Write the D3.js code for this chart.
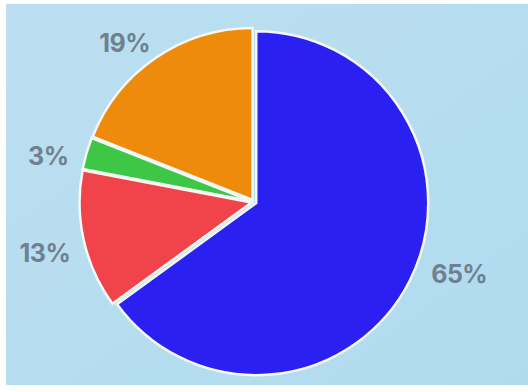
<!DOCTYPE html>
<html>
<head>
<meta charset="utf-8">
<script src="https://cdn.jsdelivr.net/npm/d3@7"></script>
<style>
  html, body { margin: 0; padding: 0; background: #ffffff; }
  svg { display: block; }
</style>
</head>
<body>
<svg id="chart" width="528" height="392"></svg>
<script>
// ---- data ----
const categories = ["A", "B", "C", "D"];
const values = [65, 13, 3, 19];
const labels = ["65%", "13%", "3%", "19%"];
const colors = ["#2b20f2", "#f1434a", "#3ec747", "#ee8b0d"];

// ---- layout ----
const W = 528, H = 392;
const cx = 254, cy = 202, R = 172;
const svg = d3.select("#chart");

svg.append("rect").attr("x", 0).attr("y", 0).attr("width", W).attr("height", H).attr("fill", "#ffffff");
const defs = svg.append("defs");
const grad = defs.append("linearGradient").attr("id", "bg").attr("x1", "0").attr("y1", "0").attr("x2", "1").attr("y2", "1");
grad.append("stop").attr("offset", "0%").attr("stop-color", "#bcdff0");
grad.append("stop").attr("offset", "100%").attr("stop-color", "#b0dbef");
svg.append("rect").attr("x", 6).attr("y", 4).attr("width", W - 6).attr("height", 381).attr("fill", "url(#bg)");

const pie = d3.pie().sort(null).value(d => d)(values);
const arc = d3.arc().innerRadius(0).outerRadius(R);

const g = svg.append("g").attr("transform", `translate(${cx},${cy})`);

g.selectAll("path.slice")
  .data(pie)
  .join("path")
  .attr("class", "slice")
  .attr("transform", d => {
    const a = (d.startAngle + d.endAngle) / 2;
    const off = 2.5;
    return `translate(${off * Math.sin(a)},${-off * Math.cos(a)})`;
  })
  .attr("d", arc)
  .attr("fill", (d, i) => colors[i])
  .attr("stroke", "#f4f8f4")
  .attr("stroke-width", 2.5)
  .attr("stroke-linejoin", "miter");

// label angle nudges (radians) and radii to follow the photographed placement
const nudge = [-0.14, -0.016, -0.058, -0.082];
const labelRs = [217, 215, 211, 206];
g.selectAll("text.lbl")
  .data(pie)
  .join("text")
  .attr("class", "lbl")
  .attr("x", (d, i) => labelRs[i] * Math.sin((d.startAngle + d.endAngle) / 2 + nudge[i]))
  .attr("y", (d, i) => -labelRs[i] * Math.cos((d.startAngle + d.endAngle) / 2 + nudge[i]) + 1)
  .attr("text-anchor", "middle")
  .attr("dominant-baseline", "central")
  .attr("font-family", "Inter, Roboto, sans-serif")
  .attr("font-weight", "bold")
  .attr("font-size", 25)
  .attr("letter-spacing", "-0.5")
  .attr("fill", "#6f8190")
  .text((d, i) => labels[i]);
</script>
</body>
</html>
